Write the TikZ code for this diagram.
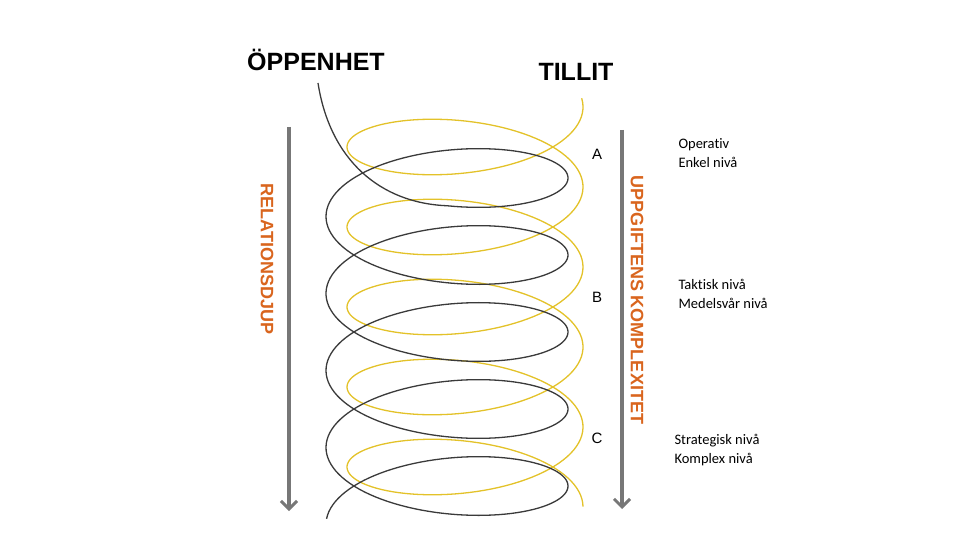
\documentclass[tikz,border=0pt]{standalone}
\usepackage{fontspec}
\setmainfont{Liberation Sans}
\newfontfamily\carl[Ligatures=NoCommon]{Carlito}
\usetikzlibrary{arrows.meta}
\definecolor{ylw}{HTML}{E3C229}
\definecolor{blk}{HTML}{3A3A3A}
\definecolor{org}{HTML}{D9651E}
\definecolor{gry}{HTML}{777777}
\tikzset{
  garrow/.style={draw=gry,line width=3.2pt,-{Straight Barb[length=8pt,width=16pt,line width=3pt]}},
  olabel/.style={text=org,font=\fontsize{18}{18}\selectfont\bfseries,rotate=-90},
  title/.style={font=\fontsize{25}{25}\selectfont\bfseries},
  lvl/.style={font=\fontsize{14.5}{19}\selectfont\carl,align=left,anchor=west},
  letter/.style={font=\fontsize{15}{15}\selectfont}
}
\begin{document}
\begin{tikzpicture}[x=1pt,y=-1pt]
\useasboundingbox (0,0) rectangle (960,540);
% yellow helix
\draw[ylw,line width=1.3pt,samples=500,domain=-0.15:31.4159,variable=\t]
  plot ({465+118*cos(\t r)},{107+80*\t/6.28319+46*sin(\t r)});
% black helix
\draw[blk,line width=1.3pt] (318,83) .. controls (330,160) and (380,203) .. ({447},{178-19.25+47})
  -- plot[samples=500,domain=-1.5708:28.18,variable=\t]
  ({447+121*cos(\t r)},{178+77*\t/6.28319-47*sin(\t r)});
\node[title] (op) at (316,60) {ÖPPENHET};
\node[title] (ti) at (576,72) {TILLIT};
\coordinate (l1) at (289,127); \coordinate (l2) at (289,511);
\coordinate (r1) at (622,130); \coordinate (r2) at (622,509);
\draw[garrow] (l1) -- (l2);
\draw[garrow] (r1) -- (r2);
\node[olabel] (rel) at (267,259) {RELATIONSDJUP};
\node[olabel] (upp) at (637,300) {UPPGIFTENS KOMPLEXITET};
\node[letter] (a) at (597,154) {A};
\node[letter] (b) at (597,297) {B};
\node[letter] (c) at (597,438) {C};
\node[lvl] (ta) at (675,153) {Operativ\\Enkel nivå};
\node[lvl] (tb) at (675,294) {Taktisk nivå\\Medelsvår nivå};
\node[lvl] (tc) at (671,450) {Strategisk nivå\\Komplex nivå};
\end{tikzpicture}
\end{document}
